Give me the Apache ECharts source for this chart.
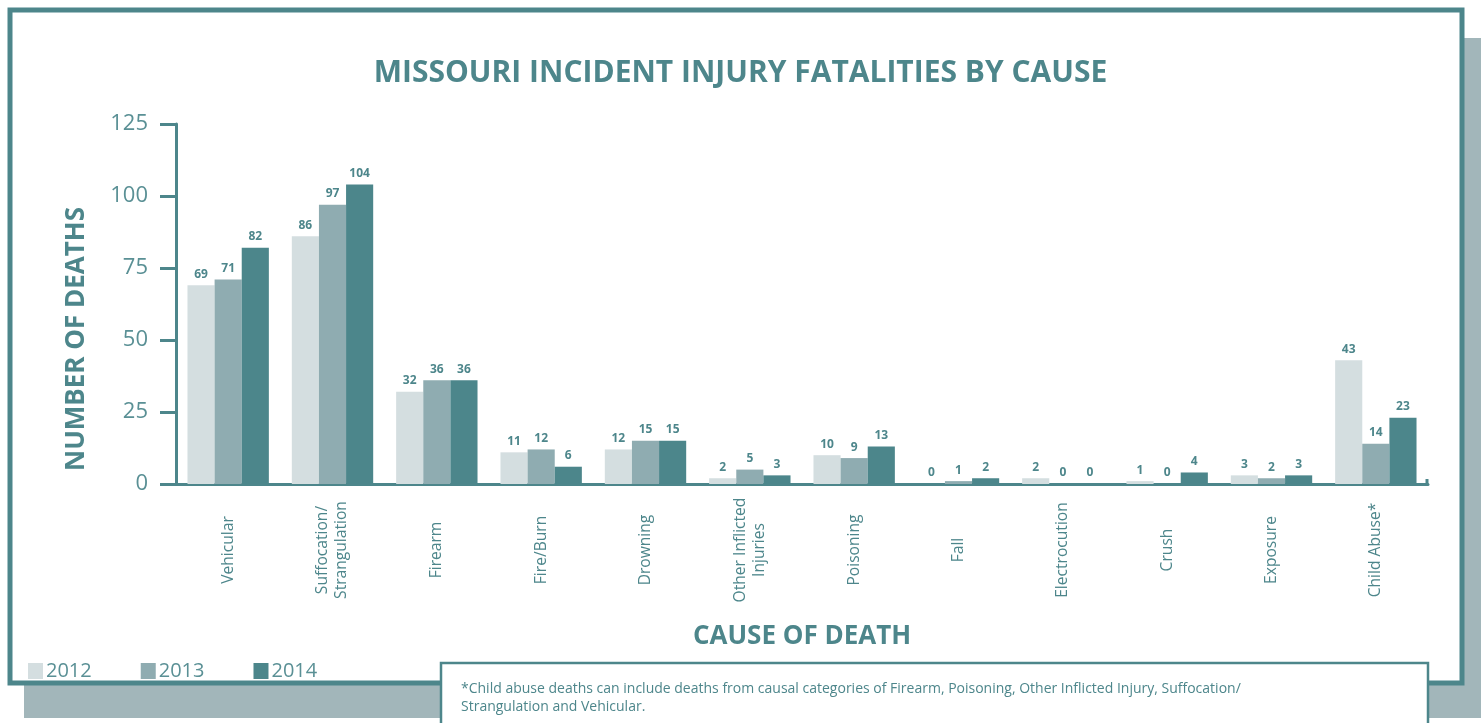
<!DOCTYPE html>
<html>
<head>
<meta charset="utf-8">
<script src="https://cdn.jsdelivr.net/npm/echarts@6/dist/echarts.min.js"></script>
<style>
  html, body { margin: 0; padding: 0; background: #fff; }
  #chart { width: 1481px; height: 723px; }
</style>
</head>
<body>
<div id="chart"></div>
<script>
// categories on the x axis
const causes = ['Vehicular', 'Suffocation/\nStrangulation', 'Firearm', 'Fire/Burn', 'Drowning',
  'Other Inflicted\nInjuries', 'Poisoning', 'Fall', 'Electrocution', 'Crush', 'Exposure', 'Child Abuse*'];
// deaths per year
const deaths2012 = [69, 86, 32, 11, 12, 2, 10, 0, 2, 1, 3, 43];
const deaths2013 = [71, 97, 36, 12, 15, 5, 9, 1, 0, 0, 2, 14];
const deaths2014 = [82, 104, 36, 6, 15, 3, 13, 2, 0, 4, 3, 23];
const years = ['2012', '2013', '2014'];
const yTicks = [0, 25, 50, 75, 100, 125];

const teal = '#4d868b';
const font = '"Open Sans", "DejaVu Sans", sans-serif';

const myChart = echarts.init(document.getElementById('chart'));

function barSeries(name, data, color) {
  return {
    name: name,
    type: 'bar',
    data: data,
    barGap: '0%',
    barCategoryGap: '22%',
    itemStyle: { color: color },
    label: {
      show: true,
      position: 'top',
      distance: 5,
      color: teal,
      fontFamily: font,
      fontWeight: 'bold',
      fontSize: 12
    }
  };
}

const option = {
  animation: false,
  backgroundColor: '#fff',
  textStyle: { fontFamily: font },
  title: {
    text: 'MISSOURI INCIDENT INJURY FATALITIES BY CAUSE',
    left: 'center',
    top: 53,
    textStyle: { color: teal, fontFamily: font, fontWeight: 'bold', fontSize: 30 }
  },
  legend: {
    data: years,
    left: 23,
    top: 656,
    icon: 'rect',
    itemWidth: 15,
    itemHeight: 16,
    itemGap: 49,
    textStyle: { color: '#5a9095', fontSize: 20, fontFamily: font, padding: [0, 0, 0, -2] }
  },
  grid: { left: 176, right: 53, top: 124, bottom: 239 },
  xAxis: {
    type: 'category',
    data: causes,
    name: 'CAUSE OF DEATH',
    nameLocation: 'middle',
    nameGap: 140,
    nameTextStyle: { color: teal, fontWeight: 'bold', fontSize: 26, fontFamily: font },
    axisLine: { lineStyle: { color: teal, width: 3 } },
    axisTick: { length: 14, lineStyle: { color: teal, width: 3 } },
    axisLabel: {
      rotate: 90,
      align: 'center',
      verticalAlign: 'middle',
      margin: 66,
      interval: 0,
      color: teal,
      fontSize: 15.6,
      lineHeight: 19,
      fontFamily: font
    }
  },
  yAxis: {
    type: 'value',
    min: 0,
    max: 125,
    interval: 25,
    name: 'NUMBER OF DEATHS',
    nameLocation: 'middle',
    nameGap: 86,
    nameTextStyle: { color: teal, fontWeight: 'bold', fontSize: 26, fontFamily: font, padding: [0, 70, 0, 0] },
    axisLine: { show: true, lineStyle: { color: teal, width: 3 } },
    axisTick: { show: true, length: 16, lineStyle: { color: teal, width: 3 } },
    splitLine: { show: false },
    axisLabel: {
      margin: 28,
      color: '#5a9095',
      fontSize: 22,
      fontFamily: font,
      formatter: function (v) { return yTicks.indexOf(v) >= 0 ? String(v) : ''; }
    }
  },
  series: [
    barSeries(years[0], deaths2012, '#d4dee0'),
    barSeries(years[1], deaths2013, '#8facb1'),
    barSeries(years[2], deaths2014, '#4c868b')
  ],
  graphic: [
    // grey drop shadow behind the panel
    { type: 'rect', z: -3, silent: true, shape: { x: 24, y: 38, width: 1470, height: 680 },
      style: { fill: '#a2b6ba' } },
    // white panel with teal frame
    { type: 'rect', z: -2, silent: true, shape: { x: 10, y: 10, width: 1452, height: 673 },
      style: { fill: '#fff', stroke: teal, lineWidth: 5 } },
    // small upturn at the right end of the x axis
    { type: 'line', z: 5, silent: true, shape: { x1: 1427, y1: 485, x2: 1427, y2: 479 },
      style: { stroke: teal, lineWidth: 3 } },
    // footnote box
    { type: 'rect', z: 10, silent: true, shape: { x: 441, y: 663, width: 987, height: 80 },
      style: { fill: '#fff', stroke: teal, lineWidth: 2.5 } },
    { type: 'text', z: 11, silent: true, left: 461, top: 680,
      style: {
        text: '*Child abuse deaths can include deaths from causal categories of Firearm, Poisoning, Other Inflicted Injury, Suffocation/\nStrangulation and Vehicular.',
        fill: teal, font: '14px ' + font, lineHeight: 18
      } }
  ]
};

myChart.setOption(option);
window.onresize = function () {
  myChart.resize();
};
</script>
</body>
</html>
